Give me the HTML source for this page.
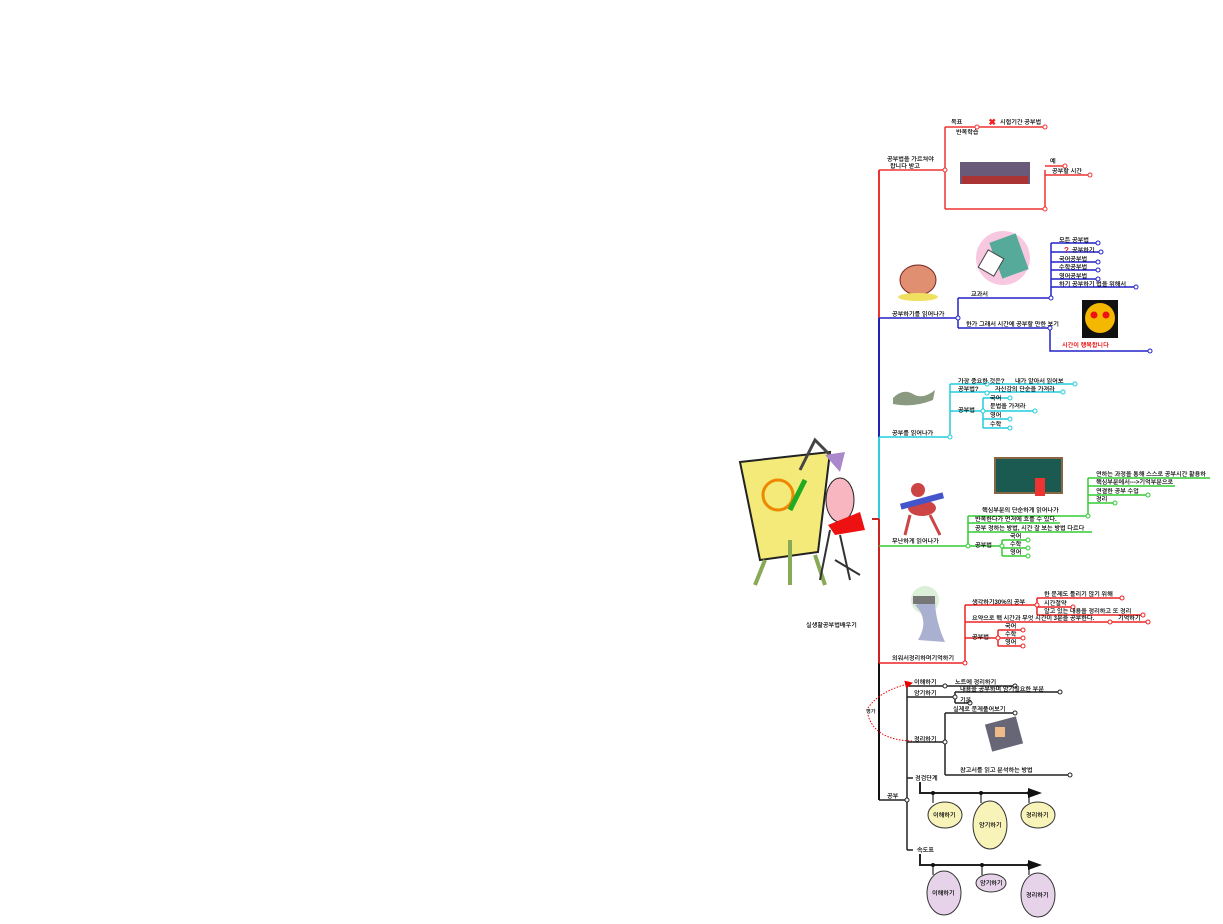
<!DOCTYPE html>
<html><head><meta charset="utf-8"><style>
html,body{margin:0;padding:0;background:#fff;width:1223px;height:924px;overflow:hidden}
svg{display:block}
text{font-family:"Liberation Sans","NanumGothic","Noto Sans CJK KR",sans-serif;font-size:6px;fill:#111;font-weight:bold}
</style></head><body>
<svg width="1223" height="924" viewBox="0 0 1223 924" xmlns="http://www.w3.org/2000/svg">
<defs><marker id="ar" markerWidth="8" markerHeight="8" refX="7" refY="4" orient="auto"><path d="M0,0 L8,4 L0,8z" fill="#e00"/></marker></defs>
<g fill="none" stroke-width="2">
<path d="M879,170 V318" stroke="#e33"/>
<path d="M879,318 V437" stroke="#22b"/>
<path d="M879,437 V519" stroke="#3cd"/>
<path d="M879,519 V663" stroke="#c22"/>
<path d="M879,663 V800" stroke="#111"/>
<path d="M872,519 H879" stroke="#c22"/>
</g>
<g>
<polygon points="740,462 830,452 818,552 760,560" fill="#f4ea7a" stroke="#222" stroke-width="2"/>
<circle cx="778" cy="495" r="15" fill="none" stroke="#e80" stroke-width="3"/>
<path d="M790,510 L805,480" stroke="#2a2" stroke-width="5"/>
<path d="M765,560 L755,585 M815,555 L825,585 M790,540 V585" stroke="#8a5" stroke-width="4"/>
<path d="M800,470 L815,440 L835,460" stroke="#444" stroke-width="3" fill="none"/>
<polygon points="825,455 845,452 840,472" fill="#a8c"/>
<ellipse cx="840" cy="500" rx="14" ry="22" fill="#f7b6c0" stroke="#222"/>
<polygon points="828,525 860,512 865,530 835,535" fill="#e11"/>
<path d="M830,530 L820,580 M840,535 L850,580 M835,560 L860,575" stroke="#333" stroke-width="2"/>
</g>
<text x="806" y="627">실생활공부법배우기</text>

<g fill="none" stroke="#e33" stroke-width="1.5">
<path d="M879,170 H945 M945,127 V209 M945,127 H1045 M945,209 H1045 M1045,170 V209 M1045,166 H1065 M1045,175 H1090"/>
</g>
<g fill="#fff" stroke="#e33"><circle cx="945" cy="170" r="2"/><circle cx="977" cy="127" r="2"/><circle cx="1045" cy="127" r="2"/><circle cx="1045" cy="209" r="2"/><circle cx="1065" cy="166" r="2"/><circle cx="1090" cy="175" r="2"/></g>
<text x="887" y="161">공부법을 가르쳐야</text><text x="890" y="168">합니다 받고</text>
<text x="951" y="124">목표</text><text x="1000" y="124">시험기간 공부법</text><text x="956" y="134">반복학습</text>
<text x="988" y="125" style="fill:#e22;font-size:9px">✖</text>
<text x="1050" y="163">예</text><text x="1052" y="173">공부할 시간</text>
<g><rect x="960" y="162" width="70" height="22" fill="#6a5a7a"/><rect x="962" y="176" width="66" height="8" fill="#a33"/></g>

<g fill="none" stroke="#22c" stroke-width="1.5">
<path d="M879,318 H958 M958,298 V328 M958,298 H1051 M1051,243 V298 M1051,243 H1098 M1051,252 H1101 M1051,262 H1098 M1051,270 H1098 M1051,279 H1098 M1051,287 H1136 M958,328 H1050 V351 H1150"/>
</g>
<g fill="#fff" stroke="#22c"><circle cx="958" cy="318" r="2"/><circle cx="1051" cy="298" r="2"/><circle cx="1098" cy="243" r="2"/><circle cx="1101" cy="252" r="2"/><circle cx="1098" cy="262" r="2"/><circle cx="1098" cy="270" r="2"/><circle cx="1098" cy="279" r="2"/><circle cx="1136" cy="287" r="2"/><circle cx="1050" cy="328" r="2"/><circle cx="1150" cy="351" r="2"/></g>
<text x="892" y="316">공부하기를 읽어나가</text><text x="971" y="296">교과서</text>
<text x="1059" y="242">모든 공부법</text><text x="1072" y="252">공부하기</text><text x="1059" y="261">국어공부법</text><text x="1059" y="269">수학공부법</text><text x="1059" y="278">영어공부법</text><text x="1059" y="286">하기 공부하기 법을 위해서</text>
<text x="1064" y="253" style="fill:#e22;font-size:8px">?</text>
<text x="966" y="326">한가 그래서 시간에 공부할 만한 보기</text>
<text x="1062" y="347" style="fill:#e00;font-weight:bold">시간이 행복합니다</text>
<circle cx="1003" cy="258" r="27" fill="#f8c8e0"/><rect x="995" y="237" width="28" height="38" fill="#5a9" transform="rotate(-20 1009 256)"/><rect x="982" y="253" width="18" height="20" fill="#fff" stroke="#444" transform="rotate(30 991 263)"/>
<rect x="1082" y="300" width="36" height="38" fill="#111"/><circle cx="1100" cy="318" r="15" fill="#f5b800"/><circle cx="1094" cy="315" r="3.5" fill="#e11"/><circle cx="1106" cy="315" r="3.5" fill="#e11"/>
<ellipse cx="918" cy="280" rx="18" ry="15" fill="#e09070" stroke="#722"/><ellipse cx="918" cy="297" rx="20" ry="4" fill="#f0e060"/>

<g fill="none" stroke="#2cd" stroke-width="1.5">
<path d="M879,437 H950 M950,384 V437 M950,384 H1075 M950,392 H1063 M950,411 H983 M983,398 V428 M983,398 H1010 M983,411 H1035 M983,419 H1010 M983,428 H1010"/>
</g>
<g fill="#fff" stroke="#2cd"><circle cx="950" cy="437" r="2"/><circle cx="1075" cy="384" r="2"/><circle cx="1063" cy="392" r="2"/><circle cx="987" cy="384" r="2"/><circle cx="987" cy="393" r="2"/><circle cx="983" cy="411" r="2"/><circle cx="1010" cy="398" r="2"/><circle cx="1035" cy="411" r="2"/><circle cx="1010" cy="419" r="2"/><circle cx="1010" cy="428" r="2"/></g>
<text x="892" y="435">공부를 읽어나가</text><text x="958" y="383">가장 중요한 것은?</text><text x="1015" y="383">내가 알아서 읽어보</text>
<text x="958" y="391">공부법?</text><text x="995" y="391">자신감의 단순을 가져라</text><text x="958" y="412">공부법</text>
<text x="990" y="400">국어</text><text x="990" y="408">문법을 가져라</text><text x="990" y="417">영어</text><text x="990" y="426">수학</text>
<path d="M893,398 q10,-10 20,-4 q10,6 22,-4 l-2,10 q-20,8 -40,4z" fill="#8a9a80"/>

<g fill="none" stroke="#3c3" stroke-width="1.5">
<path d="M879,546 H968 M968,516 V546 M968,516 H1088 M1088,478 V516 M1088,478 H1210 M1088,486 H1175 M1088,495 H1148 M1088,503 H1115 M968,523 H1060 M968,532 H1092 M968,546 H1002 M1002,540 V556 M1002,540 H1028 M1002,548 H1028 M1002,556 H1028"/>
</g>
<g fill="#fff" stroke="#3c3"><circle cx="968" cy="546" r="2"/><circle cx="1088" cy="516" r="2"/><circle cx="1148" cy="495" r="2"/><circle cx="1115" cy="503" r="2"/><circle cx="1002" cy="546" r="2"/><circle cx="1028" cy="540" r="2"/><circle cx="1028" cy="548" r="2"/><circle cx="1028" cy="556" r="2"/></g>
<text x="892" y="543">무난하게 읽어나가</text><text x="982" y="512">핵심부분의 단순하게 읽어나가</text>
<text x="1096" y="476">연하는 과정을 통해 스스로 공부시간 활용하</text><text x="1096" y="484">핵심부분에서---&gt;기억부분으로</text><text x="1096" y="493">연결한 공부 수업</text><text x="1096" y="501">정리</text>
<text x="975" y="521">반복한다가 먼저에 흐를 수 있다.</text><text x="975" y="530">공부 정하는 방법, 시간 잘 보는 방법 다르다</text>
<text x="975" y="547">공부법</text><text x="1010" y="538">국어</text><text x="1010" y="546">수학</text><text x="1010" y="554">영어</text>
<rect x="995" y="458" width="67" height="35" fill="#1a5a50" stroke="#864" stroke-width="2"/><rect x="1035" y="478" width="10" height="18" fill="#e33"/>
<g fill="#c44"><circle cx="918" cy="490" r="7"/><ellipse cx="922" cy="508" rx="14" ry="8"/><path d="M910,515 L905,535 M930,515 L940,535" stroke="#c44" stroke-width="3"/></g>
<rect x="900" y="498" width="44" height="6" fill="#45c" transform="rotate(-15 922 501)"/>

<g fill="none" stroke="#e22" stroke-width="1.5">
<path d="M879,663 H965 M965,605 V663 M965,605 H1037 M1037,598 V615 M1037,598 H1122 M1037,607 H1073 M1037,615 H1143 M965,622 H1110 M1110,622 H1148 M965,638 H998 M998,630 V646 M998,630 H1023 M998,638 H1023 M998,646 H1023"/>
</g>
<g fill="#fff" stroke="#e22"><circle cx="965" cy="663" r="2"/><circle cx="1037" cy="605" r="2"/><circle cx="1122" cy="598" r="2"/><circle cx="1073" cy="607" r="2"/><circle cx="1143" cy="615" r="2"/><circle cx="1110" cy="622" r="2"/><circle cx="1148" cy="622" r="2"/><circle cx="998" cy="638" r="2"/><circle cx="1023" cy="630" r="2"/><circle cx="1023" cy="638" r="2"/><circle cx="1023" cy="646" r="2"/></g>
<text x="892" y="660">외워서정리하며기억하기</text><text x="972" y="604">생각하기30%의 공부</text>
<text x="1044" y="596">한 문제도 틀리기 않기 위해</text><text x="1044" y="605">시간절약</text><text x="1044" y="613">알고 있는 내용을 정리하고 또 정리</text>
<text x="972" y="620">요약으로 핵 시간과 무엇 시간이 3분을 공부한다.</text><text x="1118" y="620">기억하기</text>
<text x="972" y="639">공부법</text><text x="1005" y="628">국어</text><text x="1005" y="636">수학</text><text x="1005" y="644">영어</text>
<circle cx="925" cy="600" r="14" fill="#cde8c8" opacity=".7"/><path d="M915,605 Q930,620 918,640 L945,642 Q935,620 935,600z" fill="#aab0d0"/><rect x="913" y="596" width="22" height="8" fill="#777"/>

<g fill="none" stroke="#222" stroke-width="1.5">
<path d="M879,800 H907 M907,686 V850 M907,686 H1015 M907,697 H955 M955,692 V703 M955,692 H1060 M955,703 H970 M907,742 H945 M945,713 V775 M945,713 H1015 M945,775 H1070 M907,778 H913 M907,850 H913"/>
<path d="M920,782 V793 H1030 M920,854 V865 H1030" stroke-width="2"/>
<path d="M933,793 V803 M981,793 V803 M1029,793 V803 M933,865 V875 M982,865 V875 M1029,865 V875" stroke="#555"/>
</g>
<polygon points="1028,788 1042,793 1028,798" fill="#111"/><polygon points="1028,860 1042,865 1028,870" fill="#111"/>
<g fill="#111"><circle cx="933" cy="793" r="2"/><circle cx="981" cy="793" r="2"/><circle cx="1029" cy="793" r="2"/><circle cx="933" cy="865" r="2"/><circle cx="982" cy="865" r="2"/><circle cx="1029" cy="865" r="2"/></g>
<g fill="#fff" stroke="#222"><circle cx="907" cy="800" r="2"/><circle cx="945" cy="686" r="2"/><circle cx="1015" cy="686" r="2"/><circle cx="955" cy="697" r="2"/><circle cx="1060" cy="692" r="2"/><circle cx="970" cy="703" r="2"/><circle cx="945" cy="742" r="2"/><circle cx="1015" cy="713" r="2"/><circle cx="1070" cy="775" r="2"/></g>
<text x="887" y="798">공부</text><text x="914" y="684">이해하기</text><text x="955" y="684">노트에 정리하기</text>
<text x="914" y="695">암기하기</text><text x="960" y="691">내용을 공부하며 암기필요한 부분</text><text x="960" y="702">기본</text>
<text x="914" y="741">정리하기</text><text x="953" y="711">실제로 문제풀어보기</text><text x="960" y="772">참고서를 읽고 분석하는 방법</text>
<text x="915" y="780">점검단계</text><text x="917" y="852">속도표</text>
<rect x="988" y="720" width="32" height="28" fill="#667" transform="rotate(-15 1004 734)"/><rect x="995" y="727" width="10" height="10" fill="#eb8"/>
<g stroke="#333" stroke-width="1">
<ellipse cx="945" cy="815" rx="17" ry="13" fill="#f8f3b8"/><ellipse cx="990" cy="825" rx="17" ry="24" fill="#f8f3b8"/><ellipse cx="1038" cy="815" rx="17" ry="13" fill="#f8f3b8"/>
<ellipse cx="944" cy="893" rx="17" ry="22" fill="#e6d3ea"/><ellipse cx="991" cy="883" rx="15" ry="9" fill="#e6d3ea"/><ellipse cx="1038" cy="895" rx="17" ry="22" fill="#e6d3ea"/>
</g>
<text x="933" y="817">이해하기</text><text x="979" y="827">암기하기</text><text x="1026" y="817">정리하기</text>
<text x="932" y="895">이해하기</text><text x="980" y="885">암기하기</text><text x="1026" y="897">정리하기</text>
<path d="M868,708 Q880,690 912,683" fill="none" stroke="#e00" stroke-dasharray="1.5,1.5" marker-end="url(#ar)"/>
<path d="M868,715 Q875,740 912,741" fill="none" stroke="#e00" stroke-dasharray="1.5,1.5"/>
<text x="866" y="713" style="font-size:5px">평가</text>
</svg>
</body></html>
